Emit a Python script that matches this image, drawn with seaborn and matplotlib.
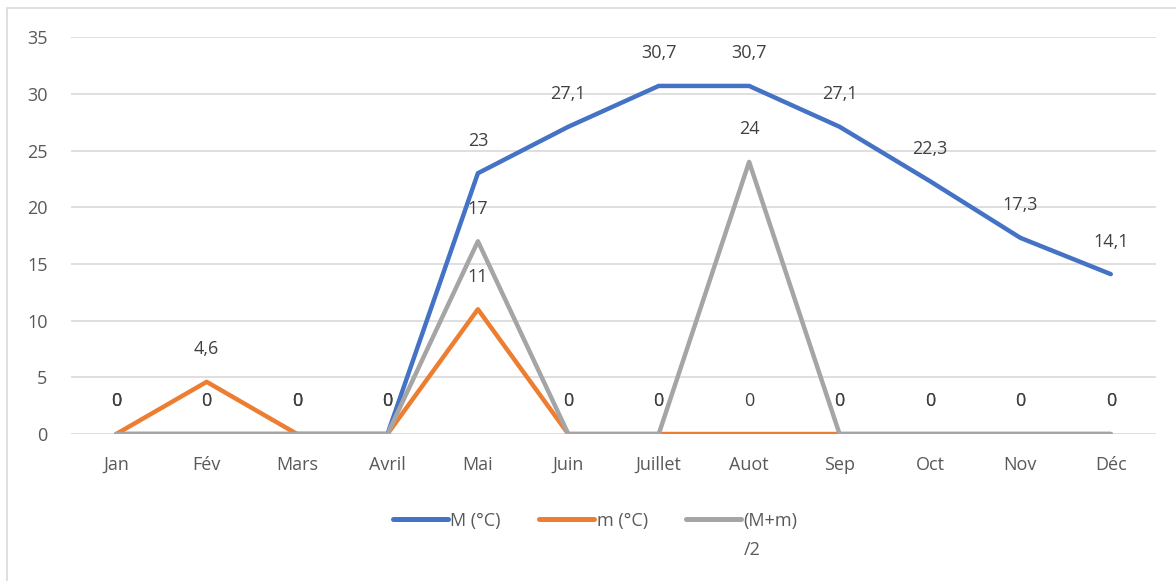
import matplotlib.pyplot as plt
import matplotlib.patches as mpatches
import pandas as pd
import seaborn as sns

months = ['Jan', 'Fév', 'Mars', 'Avril', 'Mai', 'Juin', 'Juillet', 'Auot', 'Sep', 'Oct', 'Nov', 'Déc']
temp_max = [0, 0, 0, 0, 23, 27.1, 30.7, 30.7, 27.1, 22.3, 17.3, 14.1]
temp_min = [0, 4.6, 0, 0, 11, 0, 0, 0, 0, 0, 0, 0]
temp_avg = [0, 0, 0, 0, 17, 0, 0, 24, 0, 0, 0, 0]
series_names = ['M (°C)', 'm (°C)', '(M+m)']
colors = ['#4472C4', '#ED7D31', '#A5A5A5']

frames = []
for name, vals in zip(series_names, [temp_max, temp_min, temp_avg]):
    frames.append(pd.DataFrame({'Mois': months, 'Temp': vals, 'Serie': name}))
df = pd.concat(frames, ignore_index=True)

sns.set_style('white')
plt.rcParams['font.family'] = ['Open Sans', 'DejaVu Sans']
text_col = '#595959'
fs = 13

fig = plt.figure(figsize=(11.76, 5.81), dpi=100)
ax = fig.add_axes([0.0604, 0.253, 0.9226, 0.683])

sns.lineplot(data=df, x='Mois', y='Temp', hue='Serie', palette=colors,
             hue_order=series_names, sort=False, linewidth=3.2, ax=ax)
for ln in ax.get_lines():
    ln.set_solid_capstyle('round')
    ln.set_solid_joinstyle('round')

# data labels above each point
for name in series_names:
    sub = df[df['Serie'] == name]
    for i, v in enumerate(sub['Temp']):
        lab = f'{v:g}'.replace('.', ',')
        ax.annotate(lab, (i, v), xytext=(0, 23.5), textcoords='offset points',
                    ha='center', va='center', fontsize=fs, color='#404040')

ax.set_xlim(-0.5, 11.5)
ax.set_ylim(0, 35)
ax.set_yticks(range(0, 36, 5))
ax.yaxis.grid(True, color='#D9D9D9', linewidth=1.2)
ax.set_axisbelow(True)
for s in ax.spines.values():
    s.set_visible(False)
ax.tick_params(axis='both', length=0, labelsize=fs, labelcolor=text_col)
ax.tick_params(axis='x', pad=16)
ax.tick_params(axis='y', pad=17)
ax.set_xlabel('')
ax.set_ylabel('')

ax.legend_.remove()
handles, labels = ax.get_legend_handles_labels()
leg = fig.legend(handles, labels, loc='center', bbox_to_anchor=(0.506, 0.104), ncol=3,
                 frameon=False, fontsize=fs, handlelength=3.05, handletextpad=0.15,
                 columnspacing=2.1)
for t in leg.get_texts():
    t.set_color(text_col)
for h in leg.get_lines():
    h.set_linewidth(3.6)
    h.set_solid_capstyle('round')

# Excel wraps the third legend entry onto a second line
fig.canvas.draw()
bb = leg.get_texts()[2].get_window_extent()
fig.text(bb.x0 / fig.bbox.width, (bb.y0 - 11) / fig.bbox.height, '/2',
         ha='left', va='top', fontsize=fs, color=text_col)

fig.patches.append(mpatches.Rectangle((0.006, -0.05), 1.1, 1.036, transform=fig.transFigure,
                                      fill=False, edgecolor='#D9D9D9', linewidth=1.2))

plt.savefig('out.png', dpi=100)
